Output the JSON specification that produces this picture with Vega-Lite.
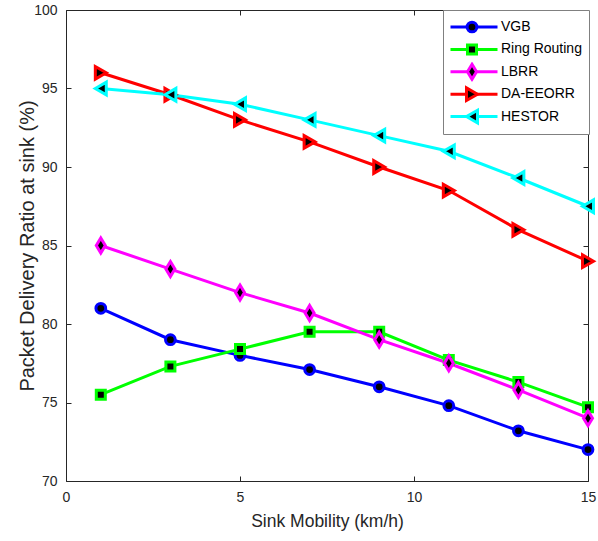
{
  "$schema": "https://vega.github.io/schema/vega-lite/v6.json",
  "width": 522,
  "height": 471,
  "autosize": "none",
  "padding": {"left": 66, "top": 10, "right": 10, "bottom": 60},
  "background": "white",
  "config": {
    "view": {"stroke": null},
    "font": "Liberation Sans",
    "axis": {
      "grid": false,
      "labelFlush": false,
      "labelOverlap": false,
      "domainColor": "#262626",
      "domainWidth": 1,
      "tickColor": "#262626",
      "tickWidth": 1,
      "tickSize": -5,
      "labelColor": "#262626",
      "labelFont": "Liberation Sans",
      "labelFontSize": 14,
      "titleFont": "Liberation Sans",
      "titleFontWeight": "normal",
      "titleColor": "#262626"
    }
  },
  "data": {
    "values": [
      {"x": 1, "v": 81.0, "series": "VGB", "label": "VGB"},
      {"x": 3, "v": 79.0, "series": "VGB", "label": "VGB"},
      {"x": 5, "v": 78.0, "series": "VGB", "label": "VGB"},
      {"x": 7, "v": 77.1, "series": "VGB", "label": "VGB"},
      {"x": 9, "v": 76.0, "series": "VGB", "label": "VGB"},
      {"x": 11, "v": 74.8, "series": "VGB", "label": "VGB"},
      {"x": 13, "v": 73.2, "series": "VGB", "label": "VGB"},
      {"x": 15, "v": 72.0, "series": "VGB", "label": "VGB"},
      {"x": 1, "v": 75.5, "series": "Ring Routing", "label": "Ring Routing"},
      {"x": 3, "v": 77.3, "series": "Ring Routing", "label": "Ring Routing"},
      {"x": 5, "v": 78.4, "series": "Ring Routing", "label": "Ring Routing"},
      {"x": 7, "v": 79.5, "series": "Ring Routing", "label": "Ring Routing"},
      {"x": 9, "v": 79.5, "series": "Ring Routing", "label": "Ring Routing"},
      {"x": 11, "v": 77.7, "series": "Ring Routing", "label": "Ring Routing"},
      {"x": 13, "v": 76.3, "series": "Ring Routing", "label": "Ring Routing"},
      {"x": 15, "v": 74.7, "series": "Ring Routing", "label": "Ring Routing"},
      {"x": 1, "v": 85.0, "series": "LBRR", "label": "LBRR"},
      {"x": 3, "v": 83.5, "series": "LBRR", "label": "LBRR"},
      {"x": 5, "v": 82.0, "series": "LBRR", "label": "LBRR"},
      {"x": 7, "v": 80.7, "series": "LBRR", "label": "LBRR"},
      {"x": 9, "v": 79.0, "series": "LBRR", "label": "LBRR"},
      {"x": 11, "v": 77.5, "series": "LBRR", "label": "LBRR"},
      {"x": 13, "v": 75.8, "series": "LBRR", "label": "LBRR"},
      {"x": 15, "v": 74.0, "series": "LBRR", "label": "LBRR"},
      {"x": 1, "v": 96.0, "series": "DA-EEORR", "label": "DA-EEORR"},
      {"x": 3, "v": 94.6, "series": "DA-EEORR", "label": "DA-EEORR"},
      {"x": 5, "v": 93.0, "series": "DA-EEORR", "label": "DA-EEORR"},
      {"x": 7, "v": 91.6, "series": "DA-EEORR", "label": "DA-EEORR"},
      {"x": 9, "v": 90.0, "series": "DA-EEORR", "label": "DA-EEORR"},
      {"x": 11, "v": 88.5, "series": "DA-EEORR", "label": "DA-EEORR"},
      {"x": 13, "v": 86.0, "series": "DA-EEORR", "label": "DA-EEORR"},
      {"x": 15, "v": 84.0, "series": "DA-EEORR", "label": "DA-EEORR"},
      {"x": 1, "v": 95.0, "series": "HESTOR", "label": "HESTOR"},
      {"x": 3, "v": 94.6, "series": "HESTOR", "label": "HESTOR"},
      {"x": 5, "v": 94.0, "series": "HESTOR", "label": "HESTOR"},
      {"x": 7, "v": 93.0, "series": "HESTOR", "label": "HESTOR"},
      {"x": 9, "v": 92.0, "series": "HESTOR", "label": "HESTOR"},
      {"x": 11, "v": 91.0, "series": "HESTOR", "label": "HESTOR"},
      {"x": 13, "v": 89.3, "series": "HESTOR", "label": "HESTOR"},
      {"x": 15, "v": 87.5, "series": "HESTOR", "label": "HESTOR"}
    ]
  },
  "layer": [
    {
      "mark": {"type": "line", "strokeWidth": 3},
      "encoding": {
        "x": {"field": "x", "type": "quantitative", "scale": {"domain": [0, 15], "nice": false, "zero": false},
          "axis": {"orient": "bottom", "values": [0, 5, 10, 15], "labelPadding": 14, "title": "Sink Mobility (km/h)", "titleFontSize": 17.5, "titlePadding": 8}},
        "y": {"field": "v", "type": "quantitative", "scale": {"domain": [70, 100], "nice": false, "zero": false},
          "axis": {"orient": "left", "values": [70, 75, 80, 85, 90, 95, 100], "labelPadding": 14, "title": "Packet Delivery Ratio at sink (%)", "titleFontSize": 20, "titlePadding": -4}},
        "color": {"field": "series", "type": "nominal", "sort": null,
          "scale": {"range": ["#0000ff", "#00ff00", "#ff00ff", "#ff0000", "#00ffff"]},
          "legend": {"orient": "none", "legendX": 377, "legendY": 0, "title": null, "columns": 1, "clipHeight": 20,
            "symbolType": "M-4.7,0H4.7", "symbolSize": 100, "symbolStrokeWidth": 3,
            "symbolOffset": 17, "labelOffset": 20, "labelFont": "Liberation Sans", "labelFontSize": 14, "labelColor": "#000000",
            "padding": 7, "rowPadding": 2.4, "strokeColor": "#808080", "fillColor": "#ffffff"}}
      }
    },
    {
      "mark": {"type": "point", "filled": true, "fill": "#000000", "fillOpacity": 1, "opacity": 1, "strokeWidth": 3},
      "encoding": {
        "x": {"field": "x", "type": "quantitative", "axis": null},
        "y": {"field": "v", "type": "quantitative", "axis": null},
        "stroke": {"field": "label", "type": "nominal",
          "scale": {"domain": ["VGB", "Ring Routing", "LBRR", "DA-EEORR", "HESTOR"], "range": ["#0000ff", "#00ff00", "#ff00ff", "#ff0000", "#00ffff"]},
          "legend": {"orient": "none", "legendX": 377, "legendY": 0, "title": null, "columns": 1, "clipHeight": 20,
            "symbolStrokeWidth": 3, "symbolFillColor": "#000000",
            "symbolOffset": 13, "labelOffset": 20, "labelFont": "Liberation Sans", "labelFontSize": 14, "labelOpacity": 0,
            "padding": 7, "rowPadding": 2.4}},
        "shape": {"field": "label", "type": "nominal",
          "scale": {"domain": ["VGB", "Ring Routing", "LBRR", "DA-EEORR", "HESTOR"], "range": ["circle", "square", "M0,-1L0.6,0L0,1L-0.6,0Z", "triangle-right", "triangle-left"]},
          "legend": {"orient": "none", "legendX": 377, "legendY": 0, "title": null, "columns": 1, "clipHeight": 20,
            "symbolStrokeWidth": 3, "symbolFillColor": "#000000",
            "symbolOffset": 13, "labelOffset": 20, "labelFont": "Liberation Sans", "labelFontSize": 14, "labelOpacity": 0,
            "padding": 7, "rowPadding": 2.4}},
        "size": {"field": "label", "type": "nominal",
          "scale": {"type": "ordinal", "domain": ["VGB", "Ring Routing", "LBRR", "DA-EEORR", "HESTOR"], "range": [95, 81, 225, 160, 160]},
          "legend": {"orient": "none", "legendX": 377, "legendY": 0, "title": null, "columns": 1, "clipHeight": 20,
            "symbolStrokeWidth": 3, "symbolFillColor": "#000000",
            "symbolOffset": 13, "labelOffset": 20, "labelFont": "Liberation Sans", "labelFontSize": 14, "labelOpacity": 0,
            "padding": 7, "rowPadding": 2.4}}
      }
    },
    {
      "mark": {"type": "point", "opacity": 0},
      "encoding": {
        "x": {"field": "x", "type": "quantitative",
          "axis": {"orient": "top", "values": [0, 5, 10, 15], "labels": false, "title": null}},
        "y": {"field": "v", "type": "quantitative",
          "axis": {"orient": "right", "values": [70, 75, 80, 85, 90, 95, 100], "labels": false, "title": null}}
      }
    }
  ],
  "resolve": {"axis": {"x": "independent", "y": "independent"}}
}
